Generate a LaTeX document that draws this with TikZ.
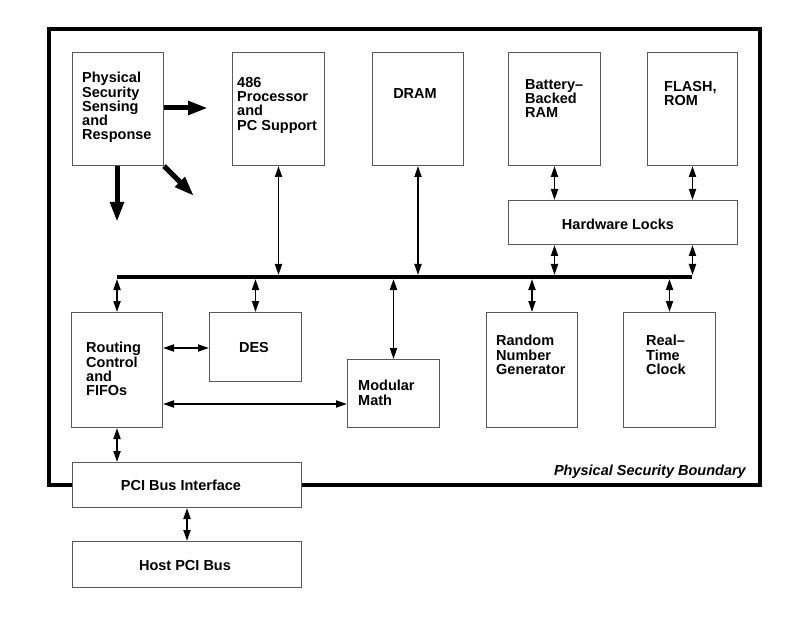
\documentclass[tikz,border=0pt]{standalone}
\usepackage{fontspec}
\setmainfont{Liberation Sans}
\usetikzlibrary{arrows.meta}
\begin{document}
\begin{tikzpicture}[x=1pt,y=-1pt,
  box/.style={draw=black!65, line width=1pt, fill=white, inner sep=0pt, anchor=north west},
  txt/.style={inner sep=0pt, align=left, font=\fontsize{14.5}{14.3}\bfseries\selectfont},
  bi/.style={line width=1.8pt, {Triangle[length=11pt,width=7pt]}-{Triangle[length=11pt,width=7pt]}},
  fat/.style={line width=5pt, -{Triangle[length=20pt,width=13pt]}},
  bus/.style={line width=4pt},
  boundary/.style={line width=4.5pt}]
\useasboundingbox (0,0) rectangle (790,631);
% security boundary
\draw[boundary] (49,29) rectangle (760,485);
% boxes
\node[box, minimum width=91pt, minimum height=113pt] (phys) at (72,52) {};
\node[box, minimum width=92pt, minimum height=113pt] (proc) at (232,52) {};
\node[box, minimum width=91pt, minimum height=113pt] (dram) at (372,52) {};
\node[box, minimum width=92pt, minimum height=113pt] (batt) at (508,52) {};
\node[box, minimum width=90pt, minimum height=113pt] (flash) at (647,52) {};
\node[box, minimum width=229pt, minimum height=44pt] (hw) at (508,200) {};
\node[box, minimum width=91pt, minimum height=115pt] (routing) at (71,312) {};
\node[box, minimum width=92pt, minimum height=69pt] (des) at (209,312) {};
\node[box, minimum width=92pt, minimum height=68pt] (mod) at (347,359) {};
\node[box, minimum width=91pt, minimum height=115pt] (rng) at (486,312) {};
\node[box, minimum width=92pt, minimum height=115pt] (rtc) at (623,312) {};
\node[box, minimum width=229pt, minimum height=45pt] (pci) at (72,462) {};
\node[box, minimum width=229pt, minimum height=46pt] (host) at (72,541) {};
% texts
\node[txt, anchor=north west] (physT) at (82,72) {Physical\\Security\\Sensing\\and\\Response};
\node[txt, anchor=north west] (procT) at (237,77) {486\\Processor\\and\\PC Support};
\node[txt, anchor=north] (dramT) at (415,88) {DRAM};
\node[txt, anchor=north west] (battT) at (525,79) {Battery–\\Backed\\RAM};
\node[txt, anchor=north west] (flashT) at (664,81) {FLASH,\\ROM};
\node[txt, anchor=north] (hwT) at (618,219) {Hardware Locks};
\node[txt, anchor=north west] (routingT) at (86,342) {Routing\\Control\\and\\FIFOs};
\node[txt, anchor=north] (desT) at (254,342) {DES};
\node[txt, anchor=north west] (modT) at (358,380) {Modular\\Math};
\node[txt, anchor=north west] (rngT) at (496,335) {Random\\Number\\Generator};
\node[txt, anchor=north west] (rtcT) at (646,335) {Real–\\Time\\Clock};
\node[txt, anchor=north] (pciT) at (181,480) {PCI Bus Interface};
\node[txt, anchor=north] (hostT) at (185,560) {Host PCI Bus};
\node[txt, anchor=north east, font=\fontsize{14.5}{14.3}\bfseries\itshape\selectfont] (bndT) at (746,465) {Physical Security Boundary};
% bus
\coordinate (busL) at (117,277);
\coordinate (busR) at (692,277);
% connectors to the bus
\draw[bi, shorten >=2pt] (proc.south) -- (proc.south |- busL);
\draw[bi, shorten >=2pt] (dram.south) -- (dram.south |- busL);
\draw[bi] (batt.south) -- (batt.south |- hw.north);
\draw[bi] (flash.south) -- (flash.south |- hw.north);
\draw[bi, shorten >=2pt] (hw.south -| batt.south) -- (batt.south |- busL);
\draw[bi, shorten >=2pt] (hw.south -| flash.south) -- (flash.south |- busL);
\draw[bi, shorten >=2pt] (routing.north) -- (routing.north |- busL);
\draw[bi, shorten >=2pt] (des.north) -- (des.north |- busL);
\draw[bi, shorten >=2pt] (mod.north) -- (mod.north |- busL);
\draw[bi, shorten >=2pt] (rng.north) -- (rng.north |- busL);
\draw[bi, shorten >=2pt] (rtc.north) -- (rtc.north |- busL);
\draw[bus] (busL) -- (busR);
% other connectors
\draw[bi] (routing.east |- 0,348) -- (des.west |- 0,348);
\draw[bi] (routing.east |- 0,404) -- (mod.west |- 0,404);
\draw[bi] (routing.south) -- (routing.south |- pci.north);
\draw[bi] (pci.south) -- (host.north);
% thick arrows from the sensing box
\coordinate (fr) at (208,108);
\coordinate (fd) at (117,222);
\coordinate (fdg) at (194,196);
\draw[fat] (phys.east |- fr) -- (fr);
\draw[fat] (phys.south -| fd) -- (fd);
\draw[fat] (phys.south east) -- (fdg);
\end{tikzpicture}
\end{document}
